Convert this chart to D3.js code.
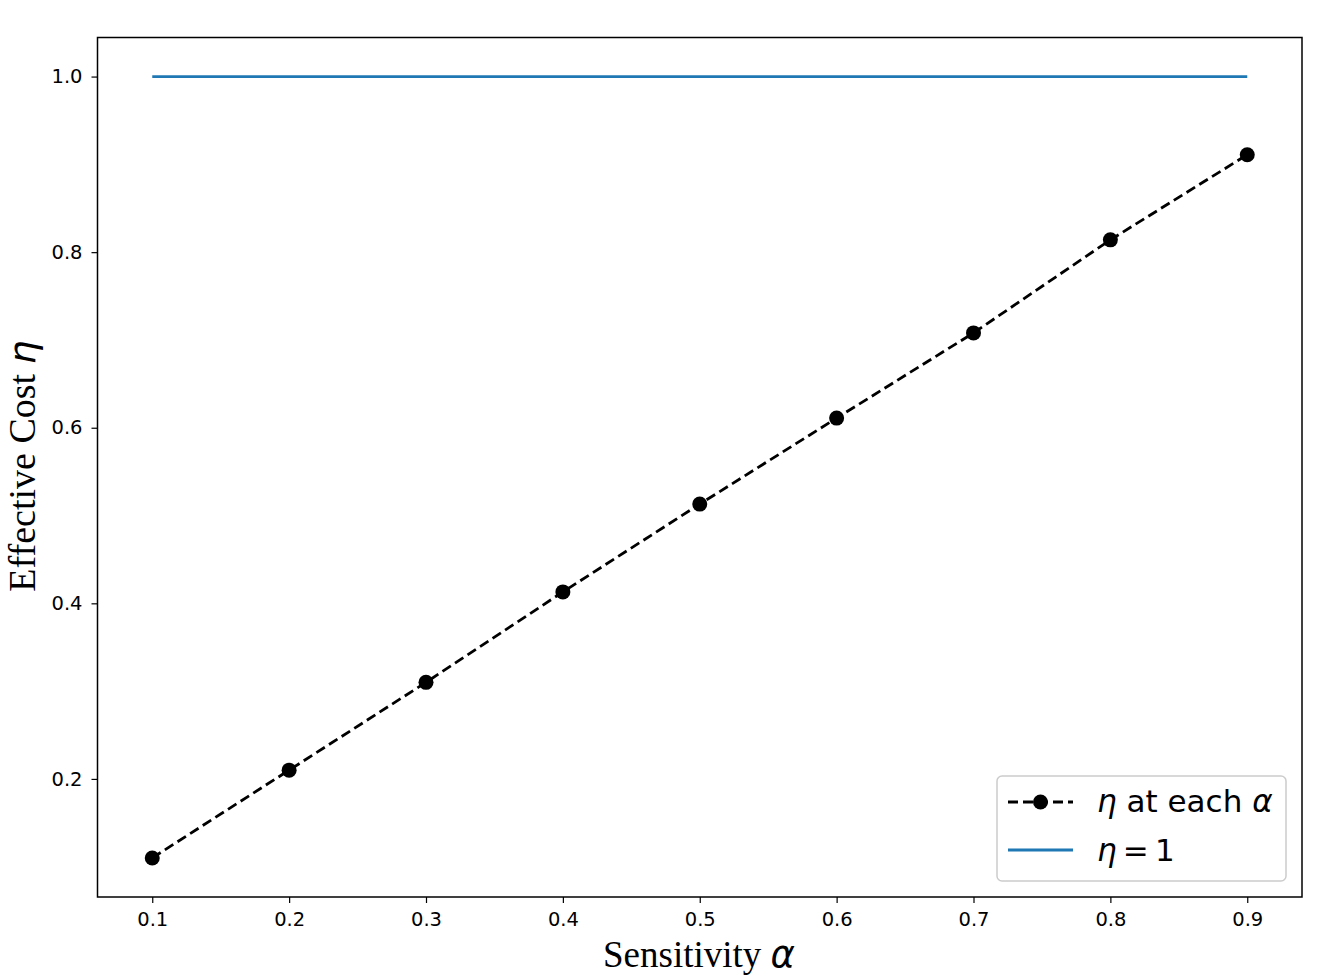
<!DOCTYPE html>
<html lang="en">
<head>
    <meta charset="UTF-8">
    <title>effective cost</title>
    <script src="https://d3js.org/d3.v7.min.js"></script>
    <style>
        * { padding: 0; margin: 0; }
        body { background: #fff; }
        svg text { font-family: "DejaVu Sans", sans-serif; }
        svg text .serif { font-family: "Liberation Serif", "Times New Roman", serif; }
    </style>
</head>
<body>
    <div class="context"></div>
    <script>
        // data
        let alphas = [0.1, 0.2, 0.3, 0.4, 0.5, 0.6, 0.7, 0.8, 0.9];
        let etas = [0.110, 0.210, 0.310, 0.413, 0.513, 0.611, 0.708, 0.814, 0.911];
        let xTicks = [0.1, 0.2, 0.3, 0.4, 0.5, 0.6, 0.7, 0.8, 0.9];
        let yTicks = [0.2, 0.4, 0.6, 0.8, 1.0];
        let refLevel = 1;

        let W = 1341, H = 977;
        let pLeft = 97.5, pRight = 1302, pTop = 37.5, pBottom = 897;

        var svg = d3.select(".context").append("svg")
            .attr("width", W).attr("height", H);

        let x = d3.scaleLinear().domain([0.06, 0.94]).range([pLeft, pRight]);
        let y = d3.scaleLinear().domain([0.0655, 1.0445]).range([pBottom, pTop]);

        // axes
        svg.append("g").attr("transform", `translate(0,${pBottom})`)
            .call(d3.axisBottom(x).tickValues(xTicks).tickFormat(d3.format(".1f")).tickSize(6).tickPadding(9))
            .call(g => g.select(".domain").remove())
            .call(g => g.selectAll("line").attr("stroke", "#000").attr("stroke-width", 1.2))
            .call(g => g.selectAll("text").attr("font-size", 19.5).attr("fill", "#000"));

        svg.append("g").attr("transform", `translate(${pLeft},0)`)
            .call(d3.axisLeft(y).tickValues(yTicks).tickFormat(d3.format(".1f")).tickSize(6).tickPadding(9))
            .call(g => g.select(".domain").remove())
            .call(g => g.selectAll("line").attr("stroke", "#000").attr("stroke-width", 1.2))
            .call(g => g.selectAll("text").attr("font-size", 19.5).attr("fill", "#000"));

        // reference line
        svg.append("line")
            .attr("x1", x(alphas[0])).attr("x2", x(alphas[alphas.length - 1]))
            .attr("y1", y(refLevel)).attr("y2", y(refLevel))
            .attr("stroke", "#1f77b4").attr("stroke-width", 2.8);

        // eta line
        let line = d3.line().x((d, i) => x(alphas[i])).y(d => y(d));
        svg.append("path").datum(etas)
            .attr("d", line)
            .attr("fill", "none")
            .attr("stroke", "#000")
            .attr("stroke-width", 2.8)
            .attr("stroke-dasharray", "10,5");

        svg.selectAll("circle.pt").data(etas).enter().append("circle")
            .attr("class", "pt")
            .attr("cx", (d, i) => x(alphas[i]))
            .attr("cy", d => y(d))
            .attr("r", 7.5)
            .attr("fill", "#000");

        // frame
        svg.append("rect")
            .attr("x", pLeft).attr("y", pTop)
            .attr("width", pRight - pLeft).attr("height", pBottom - pTop)
            .attr("fill", "none").attr("stroke", "#000").attr("stroke-width", 1.5);

        // axis labels
        let xl = svg.append("text")
            .attr("x", 699).attr("y", 967)
            .attr("text-anchor", "middle")
            .attr("font-size", 37);
        xl.append("tspan").attr("class", "serif").text("Sensitivity ");
        xl.append("tspan").attr("font-style", "italic").text("α");

        let yl = svg.append("text")
            .attr("transform", "translate(35,466) rotate(-90)")
            .attr("text-anchor", "middle")
            .attr("font-size", 38);
        yl.append("tspan").attr("class", "serif").text("Effective Cost ");
        yl.append("tspan").attr("font-style", "italic").text("η");

        // legend
        let lg = svg.append("g");
        lg.append("rect")
            .attr("x", 997).attr("y", 776).attr("width", 289).attr("height", 105)
            .attr("rx", 5).attr("fill", "#fff").attr("stroke", "#ccc").attr("stroke-width", 1.5);
        lg.append("line")
            .attr("x1", 1008).attr("x2", 1073).attr("y1", 802).attr("y2", 802)
            .attr("stroke", "#000").attr("stroke-width", 2.8).attr("stroke-dasharray", "10,5");
        lg.append("circle").attr("cx", 1040.5).attr("cy", 802).attr("r", 7.5).attr("fill", "#000");
        lg.append("line")
            .attr("x1", 1008).attr("x2", 1073).attr("y1", 850).attr("y2", 850)
            .attr("stroke", "#1f77b4").attr("stroke-width", 2.8);

        let t1 = lg.append("text").attr("x", 1097).attr("y", 812).attr("font-size", 31);
        t1.append("tspan").attr("font-style", "italic").text("η");
        t1.append("tspan").text(" at each ");
        t1.append("tspan").attr("font-style", "italic").text("α");

        let t2 = lg.append("text").attr("x", 1097).attr("y", 861).attr("font-size", 31);
        t2.append("tspan").attr("font-style", "italic").text("η");
        t2.append("tspan").text("\u2009=\u20091");
    </script>
</body>
</html>
